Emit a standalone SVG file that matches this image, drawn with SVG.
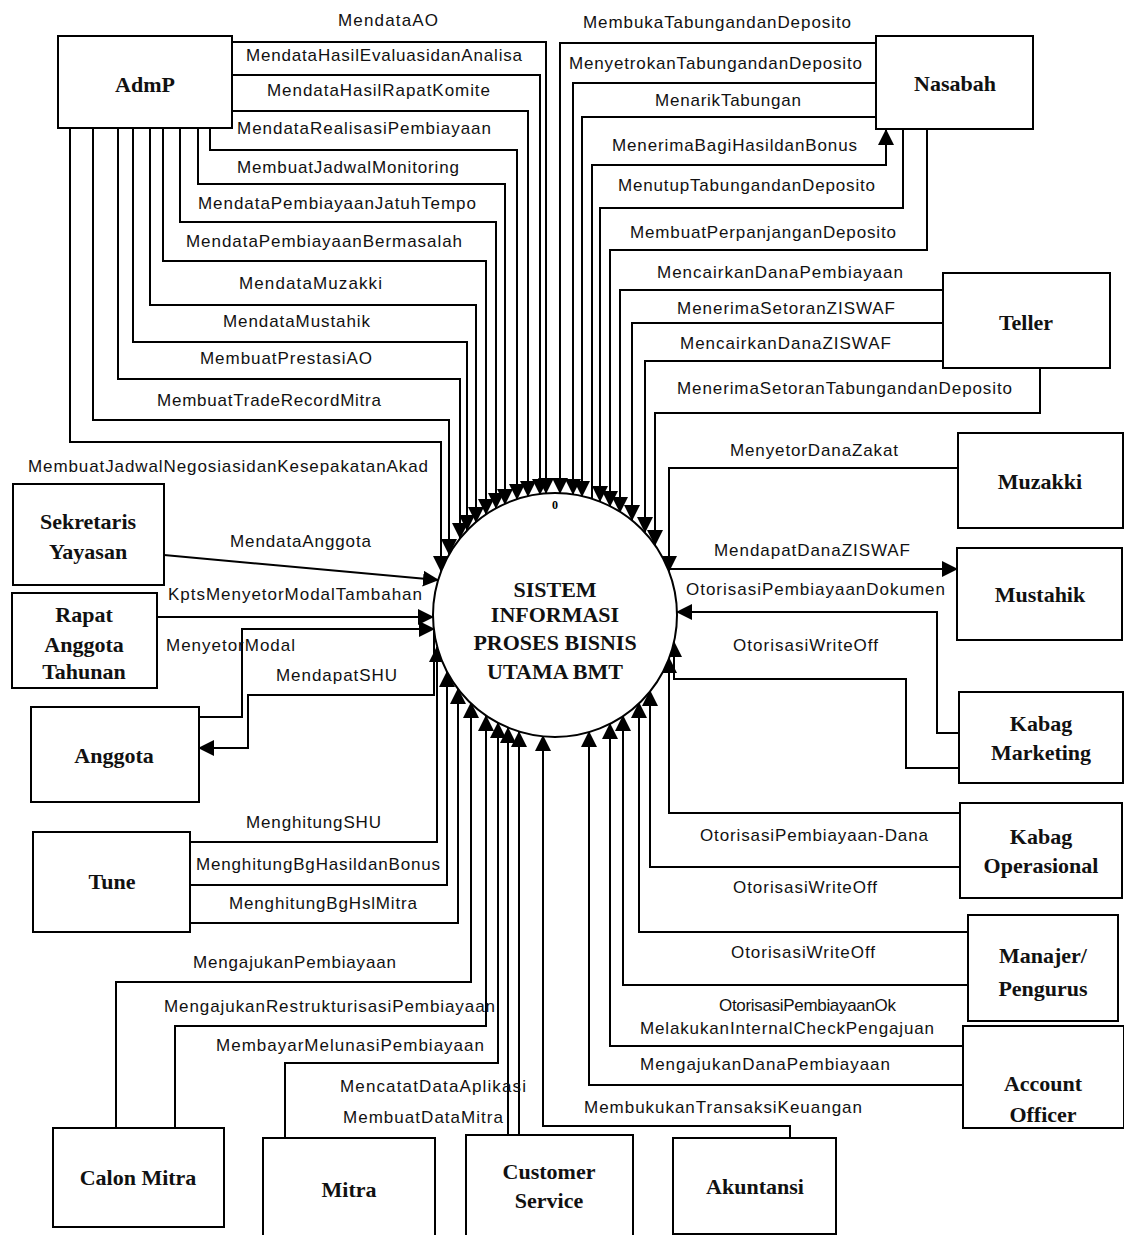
<svg xmlns="http://www.w3.org/2000/svg" width="1124" height="1235" viewBox="0 0 1124 1235">
<style>
.box{fill:#fff;stroke:#000;stroke-width:2}
.nt{font-family:"Liberation Serif","Times New Roman",serif;font-weight:bold;font-size:22px;text-anchor:middle;fill:#111}
.lb{font-family:"Liberation Sans",Arial,sans-serif;font-size:17px;fill:#111}
.c{fill:none;stroke:#000;stroke-width:2}
</style>
<defs>
<marker id="a" markerUnits="userSpaceOnUse" markerWidth="16" markerHeight="16" refX="15" refY="8" orient="auto">
<path d="M0,0 L16,8 L0,16 z" fill="#000"/>
</marker>
</defs>
<rect width="1124" height="1235" fill="#fff"/>

<g id="connectors">
<g marker-end="url(#a)" class="c">
<polyline points="232,42 546,42 546,493"/>
<polyline points="232,75 540,75 540,494"/>
<polyline points="232,111 528,111 528,496"/>
<polyline points="210,128 210,150 517,150 517,499"/>
<polyline points="198,128 198,184 505,184 505,504"/>
<polyline points="180,128 180,222 496,222 496,508"/>
<polyline points="163,128 163,261 486,261 486,514"/>
<polyline points="150,128 150,305 476,305 476,522"/>
<polyline points="133,128 133,342 467,342 467,530"/>
<polyline points="118,128 118,379 460,379 460,538"/>
<polyline points="93,128 93,420 449,420 449,554"/>
<polyline points="70,128 70,442 441,442 441,571"/>
<polyline points="876,43 560,43 560,493"/>
<polyline points="876,83 573,83 573,494"/>
<polyline points="876,117 582,117 582,496"/>
<polyline points="592,499 592,165 886,165 886,130"/>
<polyline points="903,129 903,208 600,208 600,501"/>
<polyline points="927,129 927,250 610,250 610,506"/>
<polyline points="943,290 620,290 620,512"/>
<polyline points="943,323 632,323 632,520"/>
<polyline points="943,361 645,361 645,532"/>
<polyline points="1040,368 1040,413 655,413 655,545"/>
<polyline points="958,468 669,468 669,571"/>
<polyline points="668,569 957,569"/>
<polyline points="959,733 937,733 937,612 677,612"/>
<polyline points="959,768 906,768 906,679 674,679 674,642"/>
<polyline points="960,813 669,813 669,658"/>
<polyline points="960,867 650,867 650,691"/>
<polyline points="968,932 639,932 639,703"/>
<polyline points="968,985 623,985 623,716"/>
<polyline points="963,1046 610,1046 610,724"/>
<polyline points="963,1085 589,1085 589,732"/>
<polyline points="790,1138 790,1126 543,1126 543,736"/>
<polyline points="508,1135 508,728"/>
<polyline points="519,1135 519,732"/>
<polyline points="285,1138 285,1063 498,1063 498,723"/>
<polyline points="175,1128 175,1026 486,1026 486,716"/>
<polyline points="116,1128 116,982 471,982 471,703"/>
<polyline points="189,923 458,923 458,689"/>
<polyline points="191,885 447,885 447,672"/>
<polyline points="191,842 437,842 437,647"/>
<polyline points="434,631 434,695 248,695 248,748 199,748"/>
<polyline points="199,717 242,717 242,629 434,629"/>
<polyline points="157,617 433,617"/>
<polyline points="164,555 438,580"/>
</g>
</g>

<g id="process">
<circle cx="555" cy="615" r="122" fill="#fff" stroke="#000" stroke-width="2"/>
<text class="nt" x="555" y="597">SISTEM</text>
<text class="nt" x="555" y="622">INFORMASI</text>
<text class="nt" x="555" y="650">PROSES BISNIS</text>
<text class="nt" x="555" y="679">UTAMA BMT</text>
<text x="555" y="509" font-family="Liberation Serif,serif" font-weight="bold" font-size="12" text-anchor="middle">0</text>
</g>

<g id="admp"><rect class="box" x="58" y="36" width="174" height="92"/><text class="nt" x="145" y="92">AdmP</text></g>
<g id="nasabah"><rect class="box" x="876" y="36" width="157" height="93"/><text class="nt" x="955" y="91">Nasabah</text></g>
<g id="teller"><rect class="box" x="943" y="273" width="167" height="95"/><text class="nt" x="1026" y="330">Teller</text></g>
<g id="muzakki"><rect class="box" x="958" y="433" width="165" height="95"/><text class="nt" x="1040" y="489">Muzakki</text></g>
<g id="mustahik"><rect class="box" x="957" y="548" width="165" height="92"/><text class="nt" x="1040" y="602">Mustahik</text></g>
<g id="kabag-marketing"><rect class="box" x="959" y="692" width="164" height="91"/><text class="nt" x="1041" y="731">Kabag</text><text class="nt" x="1041" y="760">Marketing</text></g>
<g id="kabag-operasional"><rect class="box" x="960" y="803" width="162" height="95"/><text class="nt" x="1041" y="844">Kabag</text><text class="nt" x="1041" y="873">Operasional</text></g>
<g id="manajer-pengurus"><rect class="box" x="968" y="915" width="150" height="106"/><text class="nt" x="1043" y="963">Manajer/</text><text class="nt" x="1043" y="996">Pengurus</text></g>
<g id="account-officer"><rect class="box" x="963" y="1026" width="161" height="102"/><text class="nt" x="1043" y="1091">Account</text><text class="nt" x="1043" y="1122">Officer</text></g>
<g id="akuntansi"><rect class="box" x="673" y="1138" width="163" height="96"/><text class="nt" x="755" y="1194">Akuntansi</text></g>
<g id="customer-service"><rect class="box" x="466" y="1135" width="167" height="102"/><text class="nt" x="549" y="1179">Customer</text><text class="nt" x="549" y="1208">Service</text></g>
<g id="mitra"><rect class="box" x="263" y="1138" width="172" height="100"/><text class="nt" x="349" y="1197">Mitra</text></g>
<g id="calon-mitra"><rect class="box" x="53" y="1128" width="171" height="99"/><text class="nt" x="138" y="1185">Calon Mitra</text></g>
<g id="sekretaris-yayasan"><rect class="box" x="13" y="484" width="151" height="101"/><text class="nt" x="88" y="529">Sekretaris</text><text class="nt" x="88" y="559">Yayasan</text></g>
<g id="rapat-anggota-tahunan"><rect class="box" x="12" y="593" width="145" height="95"/><text class="nt" x="84" y="622">Rapat</text><text class="nt" x="84" y="652">Anggota</text><text class="nt" x="84" y="679">Tahunan</text></g>
<g id="anggota"><rect class="box" x="31" y="707" width="168" height="95"/><text class="nt" x="114" y="763">Anggota</text></g>
<g id="tune"><rect class="box" x="33" y="832" width="157" height="100"/><text class="nt" x="112" y="889">Tune</text></g>

<g id="labels" class="lb">
<text x="338" y="26" textLength="100">MendataAO</text>
<text x="246" y="61" textLength="276">MendataHasilEvaluasidanAnalisa</text>
<text x="267" y="96" textLength="223">MendataHasilRapatKomite</text>
<text x="237" y="134" textLength="254">MendataRealisasiPembiayaan</text>
<text x="237" y="173" textLength="222">MembuatJadwalMonitoring</text>
<text x="198" y="209" textLength="278">MendataPembiayaanJatuhTempo</text>
<text x="186" y="247" textLength="276">MendataPembiayaanBermasalah</text>
<text x="239" y="289" textLength="143">MendataMuzakki</text>
<text x="223" y="327" textLength="147">MendataMustahik</text>
<text x="200" y="364" textLength="172">MembuatPrestasiAO</text>
<text x="157" y="406" textLength="224">MembuatTradeRecordMitra</text>
<text x="28" y="472" textLength="400">MembuatJadwalNegosiasidanKesepakatanAkad</text>
<text x="230" y="547" textLength="141">MendataAnggota</text>
<text x="168" y="600" textLength="254">KptsMenyetorModalTambahan</text>
<text x="166" y="651" textLength="129">MenyetorModal</text>
<text x="276" y="681" textLength="121">MendapatSHU</text>
<text x="246" y="828" textLength="135">MenghitungSHU</text>
<text x="196" y="870" textLength="244">MenghitungBgHasildanBonus</text>
<text x="229" y="909" textLength="188">MenghitungBgHslMitra</text>
<text x="193" y="968" textLength="203">MengajukanPembiayaan</text>
<text x="164" y="1012" textLength="331">MengajukanRestrukturisasiPembiayaan</text>
<text x="216" y="1051" textLength="268">MembayarMelunasiPembiayaan</text>
<text x="340" y="1092" textLength="186">MencatatDataAplikasi</text>
<text x="343" y="1123" textLength="160">MembuatDataMitra</text>
<text x="583" y="28" textLength="268">MembukaTabungandanDeposito</text>
<text x="569" y="69" textLength="293">MenyetrokanTabungandanDeposito</text>
<text x="655" y="106" textLength="146">MenarikTabungan</text>
<text x="612" y="151" textLength="245">MenerimaBagiHasildanBonus</text>
<text x="618" y="191" textLength="257">MenutupTabungandanDeposito</text>
<text x="630" y="238" textLength="266">MembuatPerpanjanganDeposito</text>
<text x="657" y="278" textLength="246">MencairkanDanaPembiayaan</text>
<text x="677" y="314" textLength="218">MenerimaSetoranZISWAF</text>
<text x="680" y="349" textLength="211">MencairkanDanaZISWAF</text>
<text x="677" y="394" textLength="335">MenerimaSetoranTabungandanDeposito</text>
<text x="730" y="456" textLength="168">MenyetorDanaZakat</text>
<text x="714" y="556" textLength="196">MendapatDanaZISWAF</text>
<text x="686" y="595" textLength="259">OtorisasiPembiayaanDokumen</text>
<text x="733" y="651" textLength="145">OtorisasiWriteOff</text>
<text x="700" y="841" textLength="228">OtorisasiPembiayaan-Dana</text>
<text x="733" y="893" textLength="144">OtorisasiWriteOff</text>
<text x="731" y="958" textLength="144">OtorisasiWriteOff</text>
<text x="719" y="1011" textLength="177">OtorisasiPembiayaanOk</text>
<text x="640" y="1034" textLength="294">MelakukanInternalCheckPengajuan</text>
<text x="640" y="1070" textLength="250">MengajukanDanaPembiayaan</text>
<text x="584" y="1113" textLength="278">MembukukanTransaksiKeuangan</text>
</g>
</svg>
